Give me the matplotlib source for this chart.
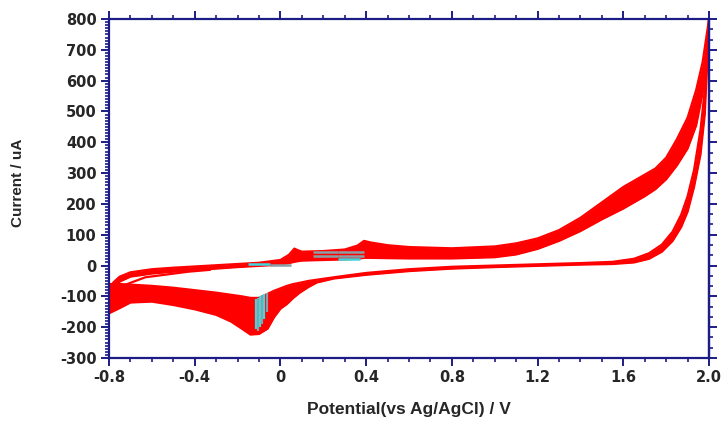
import matplotlib
import matplotlib.pyplot as plt
from matplotlib.ticker import MultipleLocator

matplotlib.use('Agg')

# forward (anodic) sweep, band between first and last cycle
fwd_v = [-0.80, -0.78, -0.75, -0.70, -0.60, -0.50, -0.40, -0.30, -0.20, -0.10,
         0.00, 0.04, 0.065, 0.08, 0.10, 0.20, 0.30, 0.36, 0.39, 0.42,
         0.50, 0.60, 0.80, 1.00, 1.10, 1.20, 1.30, 1.40, 1.50, 1.60,
         1.70, 1.75, 1.80, 1.85, 1.90, 1.94, 1.97, 2.00]
fwd_top = [-90, -55, -36, -22, -12, -7, -3, 1, 5, 9,
           18, 35, 55, 50, 45, 47, 52, 65, 80, 75,
           66, 60, 56, 62, 72, 88, 115, 155, 205, 255,
           295, 315, 350, 410, 480, 570, 660, 800]
fwd_bot = [-120, -80, -52, -36, -26, -20, -15, -10, -5, -1,
           3, 8, 12, 14, 16, 18, 20, 22, 25, 25,
           24, 23, 23, 27, 36, 54, 80, 112, 150, 185,
           225, 248, 280, 325, 380, 455, 560, 780]

# reverse (cathodic) sweep
rev_v = [-0.80, -0.75, -0.70, -0.60, -0.50, -0.40, -0.30, -0.23, -0.18, -0.14,
         -0.10, -0.06, -0.03, 0.00, 0.03, 0.06, 0.09, 0.13, 0.17, 0.25,
         0.40, 0.60, 0.80, 1.00, 1.20, 1.40, 1.55, 1.65, 1.72, 1.78,
         1.83, 1.87, 1.90, 1.93, 1.96, 1.98, 2.00]
rev_inner = [-60, -60, -62, -66, -72, -80, -88, -95, -100, -105,
             -105, -92, -82, -74, -66, -60, -56, -50, -46, -38,
             -24, -12, -4, 0, 4, 8, 12, 22, 40, 68,
             110, 165, 225, 310, 440, 570, 800]
rev_outer = [-155, -138, -120, -117, -128, -142, -160, -182, -205, -224,
             -222, -205, -168, -140, -125, -105, -88, -70, -55, -42,
             -30, -18, -10, -5, -1, 3, 5, 10, 22, 45,
             80, 125, 175, 255, 360, 490, 780]

# first cycle start, separates from the band near -0.8 V
first_v = [-0.80, -0.78, -0.75, -0.70, -0.63, -0.53, -0.43, -0.33]
first_i = [-100, -85, -70, -56, -38, -29, -20, -14]

# cyan / grey marks left in the original plot
vmark_x = [-0.115, -0.105, -0.095, -0.085, -0.075, -0.065]
vmark_lo = [-205, -212, -200, -190, -175, -150]
vmark_hi = [-108, -104, -100, -96, -92, -88]
vmark_col = ['#3fd8e0', '#8a9fa5', '#3fd8e0', '#8a9fa5', '#3fd8e0', '#8a9fa5']
hmark_y = [44, 30, 44, 30, 20, 6, 3]
hmark_x0 = [0.15, 0.15, 0.27, 0.27, 0.27, -0.15, -0.05]
hmark_x1 = [0.27, 0.27, 0.39, 0.39, 0.37, -0.05, 0.05]
hmark_col = ['#8a9fa5', '#8a9fa5', '#8a9fa5', '#8a9fa5', '#3fd8e0', '#3fd8e0', '#8a9fa5']

red = '#ff0000'
navy = '#1c1c86'
ink = '#262626'

plt.rcParams['font.family'] = ['Liberation Sans', 'DejaVu Sans']
plt.rcParams['font.weight'] = 'bold'
plt.rcParams['axes.unicode_minus'] = False

fig = plt.figure(figsize=(7.23, 4.23), dpi=100)
ax = fig.add_axes([0.1508, 0.1537, 0.8299, 0.8013])

ax.fill_between(fwd_v, fwd_bot, fwd_top, color=red, linewidth=0)
ax.plot(fwd_v, fwd_top, color=red, linewidth=1.6)
ax.plot(fwd_v, fwd_bot, color=red, linewidth=1.6)
ax.fill_between(rev_v, rev_outer, rev_inner, color=red, linewidth=0)
ax.plot(rev_v, rev_inner, color=red, linewidth=1.6)
ax.plot(rev_v, rev_outer, color=red, linewidth=1.6)
ax.plot(first_v, first_i, color=red, linewidth=1.6)

ax.vlines(vmark_x, vmark_lo, vmark_hi, colors=vmark_col, linewidth=1.6)
ax.hlines(hmark_y, hmark_x0, hmark_x1, colors=hmark_col, linewidth=1.8)

ax.set_xlim(-0.8, 2.0)
ax.set_ylim(-300, 800)
ax.set_xticks([-0.8, -0.4, 0, 0.4, 0.8, 1.2, 1.6, 2.0])
ax.set_xticklabels(['-0.8', '-0.4', '0', '0.4', '0.8', '1.2', '1.6', '2.0'])
ax.set_yticks(range(-300, 801, 100))
ax.xaxis.set_minor_locator(MultipleLocator(0.1))
ax.yaxis.set_minor_locator(MultipleLocator(10))

for side in ax.spines.values():
    side.set_color(navy)
    side.set_linewidth(1.6)

ax.tick_params(which='both', direction='out', color=navy, top=True, right=False,
               labelcolor=ink)
ax.tick_params(which='major', length=6, width=1.4, pad=3)
ax.tick_params(which='minor', length=3, width=1.2)
for lab in ax.get_xticklabels() + ax.get_yticklabels():
    lab.set_fontfamily('DejaVu Sans')
    lab.set_fontsize(10.5)
    lab.set_fontweight('bold')

# right side has its own finer ticks
right = ax.secondary_yaxis('right')
right.set_yticks(range(-300, 801, 100))
right.yaxis.set_minor_locator(MultipleLocator(100 / 3))
right.tick_params(which='both', direction='out', color=navy, labelright=False)
right.tick_params(which='major', length=6, width=1.4)
right.tick_params(which='minor', length=3, width=1.2)
right.spines['right'].set_color(navy)
right.spines['right'].set_linewidth(1.6)

ax.set_xlabel('Potential(vs Ag/AgCl) / V', fontsize=12.5, fontweight='bold',
              color=ink, va='center')
ax.xaxis.set_label_coords(0.5, -0.153)
ax.set_ylabel('Current / uA', fontsize=11, fontweight='bold',
              color=ink, va='center')
ax.yaxis.set_label_coords(-0.151, 0.516)

plt.savefig('out.png', dpi=100)
plt.close()
